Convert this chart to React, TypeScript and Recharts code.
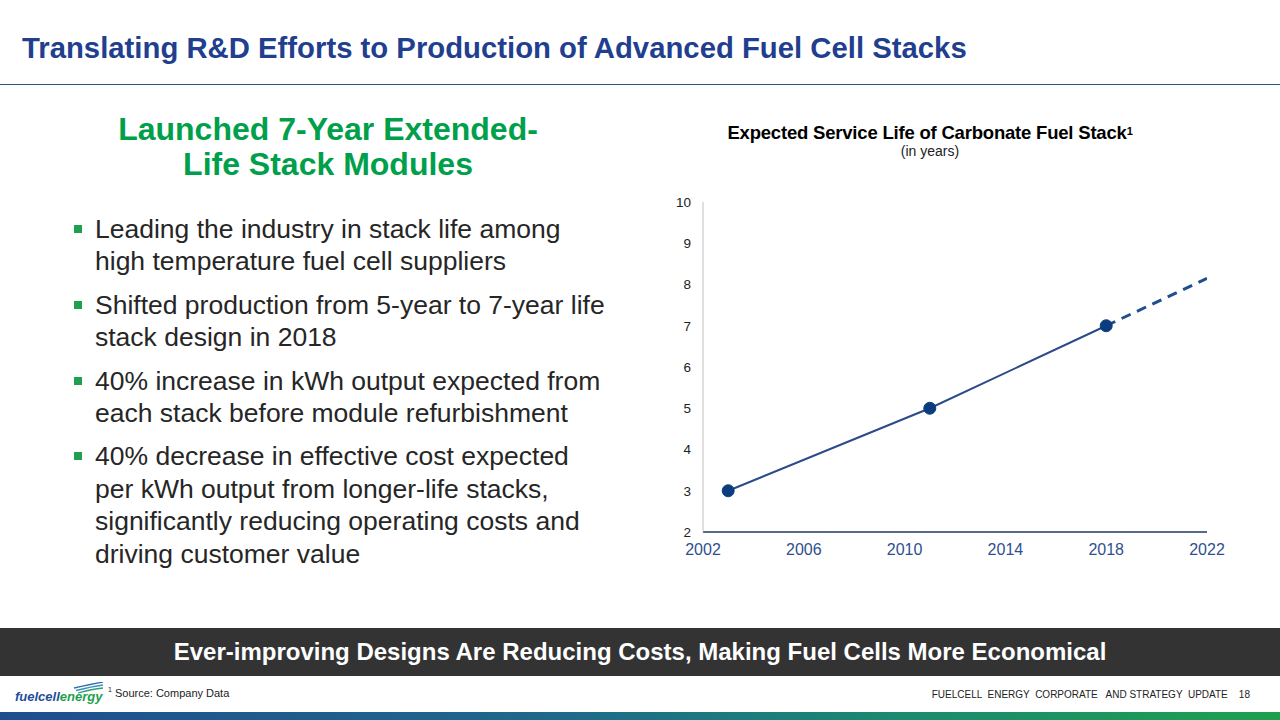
import React from "react";
import { LineChart, Line, XAxis, YAxis } from "recharts";

const actualYears = [2003, 2011, 2018];
const actualLife = [3, 5, 7];
const projectedYears = [2018, 2022];
const projectedLife = [7, 8.15];
const xTicks = [2002, 2006, 2010, 2014, 2018, 2022];
const yTicks = [2, 3, 4, 5, 6, 7, 8, 9, 10];

const bullets = [
  ["Leading the industry in stack life among", "high temperature fuel cell suppliers"],
  ["Shifted production from 5-year to 7-year life", "stack design in 2018"],
  ["40% increase in kWh output expected from", "each stack before module refurbishment"],
  [
    "40% decrease in effective cost expected",
    "per kWh output from longer-life stacks,",
    "significantly reducing operating costs and",
    "driving customer value",
  ],
];

type Row = { year: number; actual?: number | null; projected?: number | null };

const chartData: Row[] = (() => {
  const map = new Map<number, Row>();
  actualYears.forEach((y, i) => {
    map.set(y, { ...(map.get(y) || { year: y }), actual: actualLife[i] });
  });
  projectedYears.forEach((y, i) => {
    map.set(y, { ...(map.get(y) || { year: y }), projected: projectedLife[i] });
  });
  return Array.from(map.values()).sort((a, b) => a.year - b.year);
})();

const FONT = "'Liberation Sans', Arial, sans-serif";

export default function App() {
  return (
    <div
      style={{
        position: "absolute",
        left: 0,
        top: 0,
        width: 1280,
        height: 720,
        background: "#ffffff",
        fontFamily: FONT,
        overflow: "hidden",
      }}
    >
      {/* Title */}
      <div
        style={{
          position: "absolute",
          left: 22,
          top: 31,
          fontSize: 29.3,
          lineHeight: "34px",
          fontWeight: "bold",
          color: "#213F8E",
          whiteSpace: "nowrap",
        }}
      >
        Translating R&amp;D Efforts to Production of Advanced Fuel Cell Stacks
      </div>
      <div
        style={{
          position: "absolute",
          left: 0,
          top: 84,
          width: 1280,
          height: 1,
          background: "#2E5A78",
        }}
      />

      {/* Green heading */}
      <div
        style={{
          position: "absolute",
          left: 28,
          width: 600,
          top: 112,
          textAlign: "center",
          fontSize: 32,
          fontWeight: "bold",
          color: "#00A04B",
          lineHeight: "35px",
          whiteSpace: "nowrap",
        }}
      >
        <div>Launched 7-Year Extended-</div>
        <div>Life Stack Modules</div>
      </div>

      {/* Bullets */}
      <div style={{ position: "absolute", left: 72, top: 213, width: 600 }}>
        {bullets.map((lines, bi) => (
          <div key={bi} style={{ position: "relative", marginBottom: 11 }}>
            <div
              style={{
                position: "absolute",
                left: 2,
                top: 12,
                width: 8,
                height: 8,
                background: "#1FA04E",
              }}
            />
            <div
              style={{
                marginLeft: 23,
                fontSize: 26.5,
                lineHeight: "32.4px",
                color: "#262626",
                whiteSpace: "nowrap",
              }}
            >
              {lines.map((l, li) => (
                <div key={li}>{l}</div>
              ))}
            </div>
          </div>
        ))}
      </div>

      {/* Chart title */}
      <div
        style={{
          position: "absolute",
          left: 680,
          width: 500,
          top: 122,
          textAlign: "center",
          color: "#000",
          whiteSpace: "nowrap",
        }}
      >
        <div style={{ fontSize: 18.5, fontWeight: "bold", lineHeight: "21px", letterSpacing: -0.2 }}>
          Expected Service Life of Carbonate Fuel Stack
          <sup style={{ fontSize: 11, verticalAlign: "top", position: "relative", top: -1 }}>1</sup>
        </div>
        <div style={{ fontSize: 14, lineHeight: "17px", color: "#222" }}>(in years)</div>
      </div>

      {/* Chart */}
      <div style={{ position: "absolute", left: 640, top: 180 }}>
        <LineChart
          width={600}
          height={400}
          data={chartData}
          margin={{ top: 22, right: 33, bottom: 18, left: 0 }}
        >
          <XAxis
            dataKey="year"
            type="number"
            domain={[2002, 2022]}
            ticks={xTicks}
            allowDataOverflow
            height={30}
            tickLine={false}
            tickSize={0}
            tickMargin={12}
            axisLine={{ stroke: "#1F3864", strokeWidth: 1.5 }}
            tick={{ fill: "#2F4F8F", fontSize: 16, fontFamily: FONT }}
          />
          <YAxis
            type="number"
            domain={[2, 10]}
            ticks={yTicks}
            width={63}
            tickLine={false}
            tickSize={0}
            tickMargin={12}
            axisLine={{ stroke: "#BFBFBF", strokeWidth: 1 }}
            tick={{ fill: "#222222", fontSize: 13.5, fontFamily: FONT }}
          />
          <Line
            dataKey="projected"
            stroke="#1F4E8C"
            strokeWidth={3}
            strokeDasharray="10 7"
            dot={false}
            activeDot={false}
            connectNulls
            isAnimationActive={false}
          />
          <Line
            dataKey="actual"
            stroke="#2B4A8A"
            strokeWidth={2}
            dot={{ r: 6, fill: "#0B3D7E", stroke: "#0B3D7E", strokeWidth: 1 }}
            activeDot={false}
            connectNulls
            isAnimationActive={false}
          />
        </LineChart>
      </div>

      {/* Dark band */}
      <div
        style={{
          position: "absolute",
          left: 0,
          top: 628,
          width: 1280,
          height: 48,
          background: "#333333",
          color: "#ffffff",
          fontWeight: "bold",
          fontSize: 24,
          lineHeight: "48px",
          textAlign: "center",
          whiteSpace: "nowrap",
        }}
      >
        Ever-improving Designs Are Reducing Costs, Making Fuel Cells More Economical
      </div>

      {/* Footer logo */}
      <div style={{ position: "absolute", left: 12, top: 682 }}>
        <svg width={92} height={26}>
          <path d="M62 6 Q80 2 91 0" stroke="#2E6FB0" strokeWidth={1.3} fill="none" />
          <path d="M64 8.5 Q80 4.5 91 3" stroke="#3A8FC0" strokeWidth={1.3} fill="none" />
          <path d="M66 11 Q80 7 91 6" stroke="#30A070" strokeWidth={1.3} fill="none" />
          <text
            x={3}
            y={19}
            fontSize={13}
            fontStyle="italic"
            fontWeight="bold"
            fontFamily={FONT}
          >
            <tspan fill="#1F4E9A">fuelcell</tspan>
            <tspan fill="#1FA04E">energy</tspan>
          </text>
        </svg>
      </div>
      <div
        style={{
          position: "absolute",
          left: 108,
          top: 686,
          fontSize: 11,
          color: "#222",
          whiteSpace: "nowrap",
        }}
      >
        <sup style={{ fontSize: 7 }}>1</sup> Source: Company Data
      </div>
      <div
        style={{
          position: "absolute",
          right: 30,
          top: 689,
          fontSize: 10,
          color: "#222",
          whiteSpace: "pre",
        }}
      >
        {"FUELCELL  ENERGY  CORPORATE   AND STRATEGY  UPDATE    18"}
      </div>

      {/* Bottom gradient bar */}
      <div
        style={{
          position: "absolute",
          left: 0,
          top: 712,
          width: 1280,
          height: 8,
          background: "linear-gradient(to right, #1F4E8F 0%, #1F6A8A 45%, #1A8A70 70%, #1EA04E 100%)",
        }}
      />
    </div>
  );
}
